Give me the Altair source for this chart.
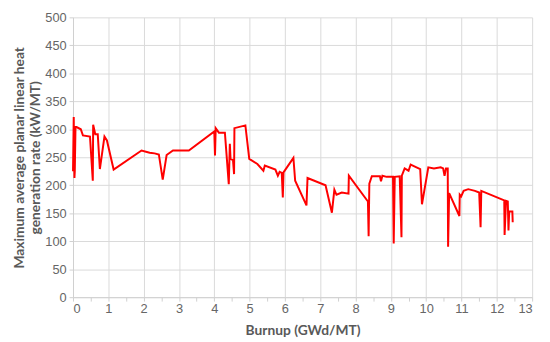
import altair as alt
import pandas as pd

burnup = [0.0, 0.02, 0.04, 0.05, 0.07, 0.10, 0.22, 0.28, 0.48, 0.56, 0.57, 0.63, 0.70, 0.76, 0.89, 0.96,
          1.15, 1.94, 2.17, 2.31, 2.43, 2.54, 2.65, 2.83, 3.28,
          4.00, 4.02, 4.04, 4.13, 4.30, 4.41, 4.44, 4.46, 4.53, 4.56, 4.57, 4.88, 4.99,
          5.22, 5.39, 5.43, 5.73, 5.80, 5.85, 5.91, 5.94, 5.96, 6.24, 6.29, 6.61, 6.64,
          7.15, 7.33, 7.40, 7.46, 7.61, 7.80, 7.81, 8.35, 8.37, 8.39, 8.46, 8.69, 8.72, 8.76,
          8.88, 9.06, 9.08, 9.11, 9.25, 9.30, 9.31, 9.39, 9.50, 9.56, 9.83, 9.88,
          10.06, 10.22, 10.41, 10.48, 10.52, 10.56, 10.61, 10.62, 10.65, 10.94, 10.95, 10.99,
          11.06, 11.19, 11.38, 11.50, 11.54, 11.56, 12.21, 12.22, 12.26, 12.31, 12.33, 12.35,
          12.44, 12.45]
mapl = [225, 322, 213, 225, 304, 304, 300, 289, 287, 208, 308, 291, 291, 229, 287, 280,
        228, 262, 258, 257, 255, 210, 254, 262, 262,
        296, 253, 302, 294, 294, 202, 274, 247, 245, 220, 302, 307, 247,
        238, 226, 235, 228, 217, 224, 222, 178, 223, 249, 208, 164, 213,
        200, 151, 192, 183, 187, 185, 217, 171, 109, 203, 216, 216, 207, 217,
        215, 215, 96, 215, 216, 107, 217, 230, 226, 237, 229, 166,
        232, 230, 232, 230, 217, 230, 230, 90, 186, 145, 183, 180,
        190, 193, 190, 187, 125, 190, 173, 111, 172, 171, 119, 153,
        153, 134]

df = pd.DataFrame({"burnup": burnup, "mapl": mapl, "order": list(range(len(burnup)))})

x_ticks = [i * 0.5 for i in range(27)]
y_ticks = list(range(0, 501, 50))

chart = alt.Chart(df).mark_line(color="#ff0000", strokeWidth=2).encode(
    x=alt.X("burnup:Q",
            scale=alt.Scale(domain=[0, 13], nice=False),
            axis=alt.Axis(values=x_ticks, title="Burnup (GWd/MT)",
                          labelExpr="datum.value % 1 === 0 ? format(datum.value, 'd') : ''",
                          gridOpacity={"condition": {"test": "datum.value % 1 === 0", "value": 1}, "value": 0},
                          tickSize=4, labelPadding=2, titlePadding=8)),
    y=alt.Y("mapl:Q",
            scale=alt.Scale(domain=[0, 500], nice=False),
            axis=alt.Axis(values=y_ticks,
                          title=["Maximum average planar linear heat", "generation rate (kW/MT)"],
                          tickSize=4, labelPadding=3, titlePadding=2, titleLineHeight=17)),
    order="order:Q",
).properties(
    width=466, height=284,
    autosize=alt.AutoSizeParams(type="none"),
    padding={"left": 66, "top": 7, "right": 10, "bottom": 43},
).configure_view(stroke=None).configure_axis(
    gridColor="#d9d9d9", domainColor="#d0d0d0", tickColor="#d0d0d0",
    labelColor="#666666", labelFont="Liberation Sans", labelFontSize=13,
    titleColor="#595959", titleFont="Lato", titleFontSize=14, titleFontWeight="bold",
)

chart.save("out.html", embed_options={"renderer": "svg", "actions": False})
